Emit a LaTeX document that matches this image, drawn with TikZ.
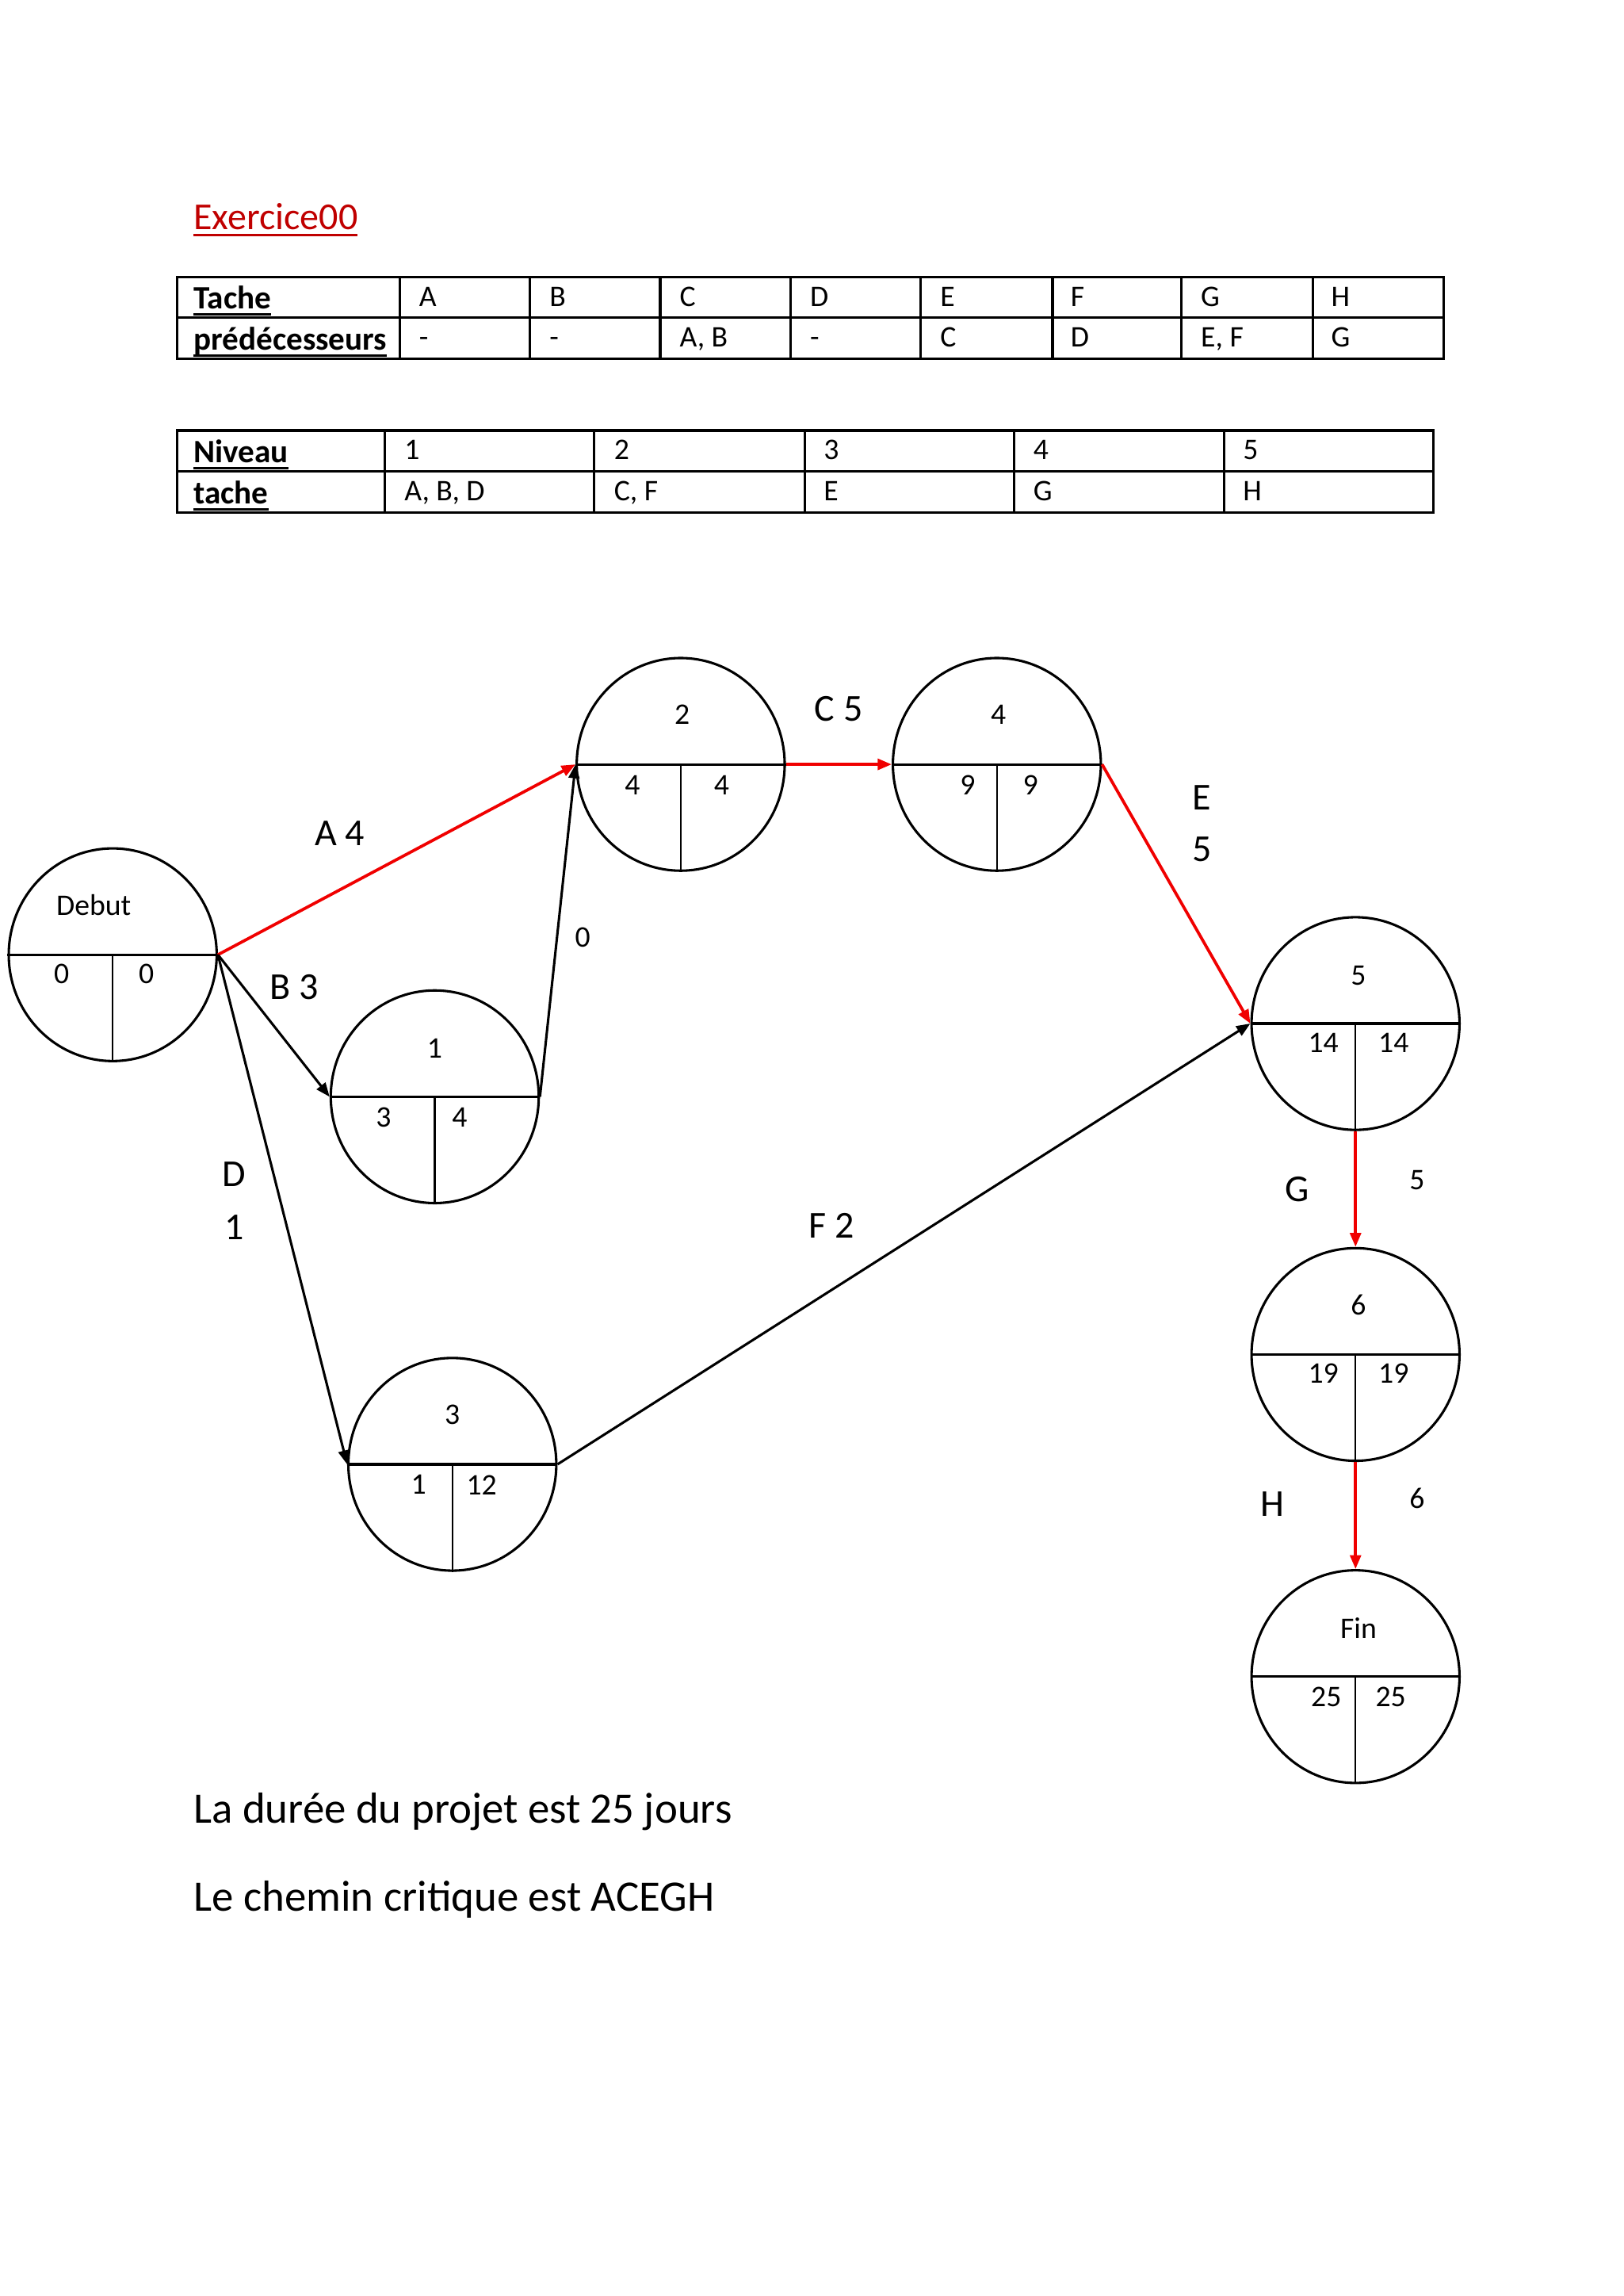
\documentclass[tikz,border=0pt]{standalone}
\usepackage{fontspec}
\setmainfont{Carlito}
\usepackage{tikz}
\usetikzlibrary{shapes.geometric, arrows.meta}
\definecolor{critred}{RGB}{240,0,0}
\definecolor{titlered}{RGB}{192,0,0}
\newcommand{\hul}[1]{\setbox0\hbox{#1}\rlap{\rule[-2.4pt]{\wd0}{0.9pt}}\box0}

\begin{document}
\begin{tikzpicture}[x=0.018936cm, y=-0.018936cm,
  evt/.style={draw,ellipse,line width=0.9pt,minimum width=2.69cm,minimum height=2.75cm,inner sep=0pt},
  num/.style={font=\fontsize{11}{13}\selectfont,inner sep=0pt},
  lbl/.style={font=\fontsize{14}{17}\selectfont,inner sep=0pt},
  cell/.style={anchor=base west,font=\fontsize{11}{13}\selectfont,inner sep=0pt},
  head/.style={cell,font=\fontsize{12}{14}\selectfont\bfseries},
  grid/.style={line width=0.9pt},
  arr/.style={-{Triangle[length=1.8mm,width=1.4mm]},line width=0.9pt},
  crit/.style={arr,critred,line width=1.1pt},
  txt/.style={anchor=base west,font=\fontsize{16}{19}\selectfont,inner sep=0pt}
]
\useasboundingbox[fill=white] (0,0) rectangle (1109,1568);

\node[text=titlered,anchor=base west,font=\fontsize{14}{17}\selectfont,inner sep=0pt] (title) at (132,157) {\hul{Exercice00}};

% table of predecessors
\draw[grid] (121,189) rectangle (986,245);
\draw[grid] (121,217) -- (986,217);
\foreach \x in {273,362,451,540,629,719,807,897}
  \draw[grid] (\x,189) -- (\x,245);
\node[head] (tache) at (132,211) {\hul{Tache}};
\node[head] (pred) at (132,239) {\hul{prédécesseurs}};
\foreach \t/\p [count=\i] in {A/-,B/-,C/{A, B},D/-,E/C,F/D,G/{E, F},H/G}{
  \node[cell] (t-\i) at ({273+(\i-1)*89+13},209) {\t};
  \node[cell] (p-\i) at ({273+(\i-1)*89+13},237) {\p};
}

% table of levels
\draw[grid] (121,294) rectangle (979,350);
\draw[grid] (121,322) -- (979,322);
\foreach \x in {263,406,550,693,836}
  \draw[grid] (\x,294) -- (\x,350);
\node[head] (niv) at (132,316) {\hul{Niveau}};
\node[head] (tch) at (132,344) {\hul{tache}};
\foreach \t [count=\i] in {{A, B, D},{C, F},E,G,H}{
  \node[cell] (v-\i) at ({263+(\i-1)*143.2+13},314) {\i};
  \node[cell] (w-\i) at ({263+(\i-1)*143.2+13},342) {\t};
}

% events
\node[evt] (deb) at (77,652) {};
\node[evt] (n1)  at (297,749) {};
\node[evt] (n2)  at (465,522) {};
\node[evt] (n3)  at (309,1000) {};
\node[evt] (n4)  at (681,522) {};
\node[evt] (n5)  at (926,699) {};
\node[evt] (n6)  at (926,925) {};
\node[evt] (fin) at (926,1145) {};
\foreach \n in {deb,n1,n2,n3,n4,n5,n6,fin}{
  \draw[line width=0.9pt] (\n.west) -- (\n.east);
  \draw[line width=0.7pt] (\n.center) -- (\n.south);
}

\node[num] (deb-t) at (64,618)  {Debut};
\node[num] (deb-e) at (42,665)  {0};
\node[num] (deb-l) at (100,665) {0};
\node[num] (n1-t) at (297,716) {1};
\node[num] (n1-e) at (262,763) {3};
\node[num] (n1-l) at (314,763) {4};
\node[num] (n2-t) at (466,488) {2};
\node[num] (n2-e) at (432,536) {4};
\node[num] (n2-l) at (493,536) {4};
\node[num] (n3-t) at (309,966)  {3};
\node[num] (n3-e) at (286,1014) {1};
\node[num] (n3-l) at (329,1014) {12};
\node[num] (n4-t) at (682,488) {4};
\node[num] (n4-e) at (661,536) {9};
\node[num] (n4-l) at (704,536) {9};
\node[num] (n5-t) at (928,666) {5};
\node[num] (n5-e) at (904,712) {14};
\node[num] (n5-l) at (952,712) {14};
\node[num] (n6-t) at (928,891) {6};
\node[num] (n6-e) at (904,938) {19};
\node[num] (n6-l) at (952,938) {19};
\node[num] (fin-t) at (928,1112) {Fin};
\node[num] (fin-e) at (906,1159) {25};
\node[num] (fin-l) at (950,1159) {25};

% tasks
\draw[crit] (deb.east) -- (n2.west);
\draw[arr]  (deb.east) -- (n1.west);
\draw[arr]  (deb.east) -- (n3.west);
\draw[arr]  (n1.east) -- (n2.west);
\draw[crit] (n2.east) -- (n4.west);
\draw[crit] (n4.east) -- (n5.west);
\draw[arr]  (n3.east) -- (n5.west);
\draw[crit] (n5.south) -- (n6.north);
\draw[crit] (n6.south) -- (fin.north);

\node[lbl] (la)  at (232,569) {A 4};
\node[lbl] (lb)  at (201,674) {B 3};
\node[lbl] (ld)  at (160,802) {D};
\node[lbl] (ld2) at (160,838) {1};
\node[num] (l0)  at (398,640) {0};
\node[lbl] (lc)  at (573,484) {C 5};
\node[lbl] (le)  at (821,545) {E};
\node[lbl] (le2) at (821,580) {5};
\node[lbl] (lf)  at (568,837) {F 2};
\node[lbl] (lg)  at (886,812) {G};
\node[num] (lg2) at (968,806) {5};
\node[lbl] (lh)  at (869,1027) {H};
\node[num] (lh2) at (968,1023) {6};

\node[txt] (duree)  at (132,1245) {La durée du projet est 25 jours};
\node[txt] (chemin) at (132,1305) {Le chemin critique est ACEGH};
\end{tikzpicture}
\end{document}
